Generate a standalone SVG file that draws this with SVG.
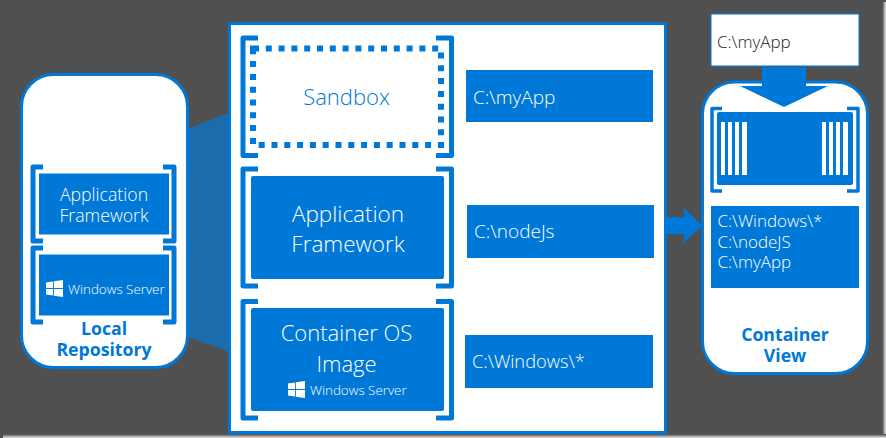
<svg xmlns="http://www.w3.org/2000/svg" width="886" height="438" viewBox="0 0 886 438">
  <style>
    .t { font-family: "Open Sans", "Noto Sans", "Liberation Sans", sans-serif; font-weight: 300; }
    .b { font-family: "Open Sans", "Noto Sans", "Liberation Sans", sans-serif; font-weight: 700; fill: #0078d7; text-anchor: middle; font-size: 17.700px; }
    .w { fill: #fff; }
    .k { fill: #222; }
    .m { text-anchor: middle; }
    .box { fill: #0078d7; }
    .boxl { fill: #0078d7; stroke: #fff; stroke-width: 1; }
    .card { fill: #fff; stroke: #0078d7; stroke-width: 3; }
    .br { fill: none; stroke: #0078d7; stroke-width: 5; stroke-linejoin: round; }
    .brs { fill: none; stroke: #0078d7; stroke-width: 3.500; stroke-linejoin: round; }
    .bar { fill: #fff; }
  </style>
  <defs>
    <symbol id="winlogo" viewBox="0 0 18 18">
      <path fill="#fff" d="M0 2.600 7.500 1.500V8.400H0ZM8.400 1.400 18 0V8.400H8.400ZM0 9.400H7.500V16.400L0 15.400ZM8.400 9.400H18V18L8.400 16.600Z"/>
    </symbol>
    <linearGradient id="edge-r" x1="0" x2="1" y1="0" y2="0">
      <stop offset="0" stop-color="#454545"/>
      <stop offset="1" stop-color="#e8e8e8"/>
    </linearGradient>
    <linearGradient id="edge-b" x1="0" x2="0" y1="0" y2="1">
      <stop offset="0" stop-color="#454545"/>
      <stop offset="1" stop-color="#e8e8e8"/>
    </linearGradient>
  </defs>

  <!-- backdrop with its soft right and bottom edge -->
  <rect width="886" height="438" fill="#505050"/>
  <rect x="882" y="2" width="4" height="436" fill="url(#edge-r)"/>
  <rect x="3" y="434" width="883" height="4" fill="url(#edge-b)"/>

  <g id="connectors">
    <polygon points="186,129 229,113 229,352 186,336" fill="#1c6bad"/>
    <polygon points="666,217 684,217 684,208 702,225.500 684,243 684,234 666,234" fill="#0078d7"/>
  </g>

  <g id="local-repository">
    <rect class="card" x="21.500" y="74.500" width="166" height="293" rx="32"/>
    <path class="br" d="M43 167H33V241H43M163 167H174V241H163"/>
    <rect class="boxl" x="38.500" y="173" width="131" height="62"/>
    <text class="t w m" font-size="17.700" x="104" y="201">Application</text>
    <text class="t w m" font-size="17.700" x="104" y="222">Framework</text>
    <path class="br" d="M43 248H33V322H43M163 248H174V322H163"/>
    <rect class="boxl" x="38.500" y="254" width="131" height="62"/>
    <use href="#winlogo" x="46" y="280" width="17" height="17"/>
    <text class="t w" font-size="13.400" x="68" y="294">Windows Server</text>
    <text class="b" x="104" y="335">Local</text>
    <text class="b" x="104" y="356">Repository</text>
  </g>

  <g id="image-layers">
    <rect x="229.500" y="23.500" width="436" height="409" fill="#fff" stroke="#0078d7" stroke-width="3"/>
  </g>

  <g id="sandbox">
    <path class="br" d="M258 38H243V155.500H258M436 38H451.500V155.500H436"/>
    <rect x="253" y="48.500" width="188" height="96.500" fill="none" stroke="#0078d7" stroke-width="6" stroke-dasharray="6 6.800"/>
    <text class="t m" fill="#0078d7" font-size="22" x="346.500" y="105">Sandbox</text>
  </g>
  <g id="sandbox-path">
    <rect class="box" x="466" y="70" width="187" height="52"/>
    <text class="t w" font-size="19" x="473" y="104">C:\myApp</text>
  </g>

  <g id="application-framework">
    <path class="br" d="M258 169H243V286H258M436 169H451.500V286H436"/>
    <rect class="box" x="251" y="176" width="193" height="103" rx="2"/>
    <text class="t w m" font-size="22.500" x="348" y="222">Application</text>
    <text class="t w m" font-size="22.500" x="348" y="252">Framework</text>
  </g>
  <g id="framework-path">
    <rect class="box" x="467" y="205" width="187" height="53"/>
    <text class="t w" font-size="19" x="474" y="238">C:\nodeJs</text>
  </g>

  <g id="container-os-image">
    <path class="br" d="M258 301.500H243V418H258M436 301.500H451.500V418H436"/>
    <rect class="box" x="251" y="308" width="193" height="103" rx="2"/>
    <text class="t w m" font-size="22" x="346.500" y="341">Container OS</text>
    <text class="t w m" font-size="22" x="346.500" y="372">Image</text>
    <use href="#winlogo" x="288" y="381" width="17" height="17"/>
    <text class="t w" font-size="13.400" x="310" y="395">Windows Server</text>
  </g>
  <g id="os-path">
    <rect class="box" x="465" y="335" width="188" height="53"/>
    <text class="t w" font-size="18.300" x="472" y="368">C:\Windows\*</text>
  </g>

  <g id="container-view">
    <rect class="card" x="702.500" y="82" width="165" height="291.500" rx="32"/>
    <path class="brs" d="M722 108.500H712V191H722M847 108.500H858V191H847"/>
    <rect x="717" y="112" width="136" height="73" rx="2" fill="#0078d7"/>
    <g id="ports">
      <rect class="bar" x="721" y="122" width="4" height="53"/>
      <rect class="bar" x="728" y="122" width="4" height="53"/>
      <rect class="bar" x="735" y="122" width="4" height="53"/>
      <rect class="bar" x="742" y="122" width="5" height="53"/>
      <rect class="bar" x="822" y="122" width="4" height="53"/>
      <rect class="bar" x="829" y="122" width="4" height="53"/>
      <rect class="bar" x="836" y="122" width="4" height="53"/>
      <rect class="bar" x="843" y="122" width="5" height="53"/>
    </g>
    <rect class="box" x="711" y="206" width="148" height="82"/>
    <text class="t w" font-size="17" x="717.500" y="227">C:\Windows\*</text>
    <text class="t w" font-size="17" x="717.500" y="248">C:\nodeJS</text>
    <text class="t w" font-size="17" x="717.500" y="268">C:\myApp</text>
    <text class="b" x="785" y="341">Container</text>
    <text class="b" x="785" y="362">View</text>
  </g>

  <g id="new-layer">
    <rect x="711" y="14" width="148" height="52" fill="#fff" stroke="#0078d7" stroke-width="1"/>
    <text class="t k" font-size="17" x="717" y="48">C:\myApp</text>
    <polygon points="762,67 806,67 806,86 828,86 784,107 740,86 762,86" fill="#0078d7"/>
  </g>
</svg>
